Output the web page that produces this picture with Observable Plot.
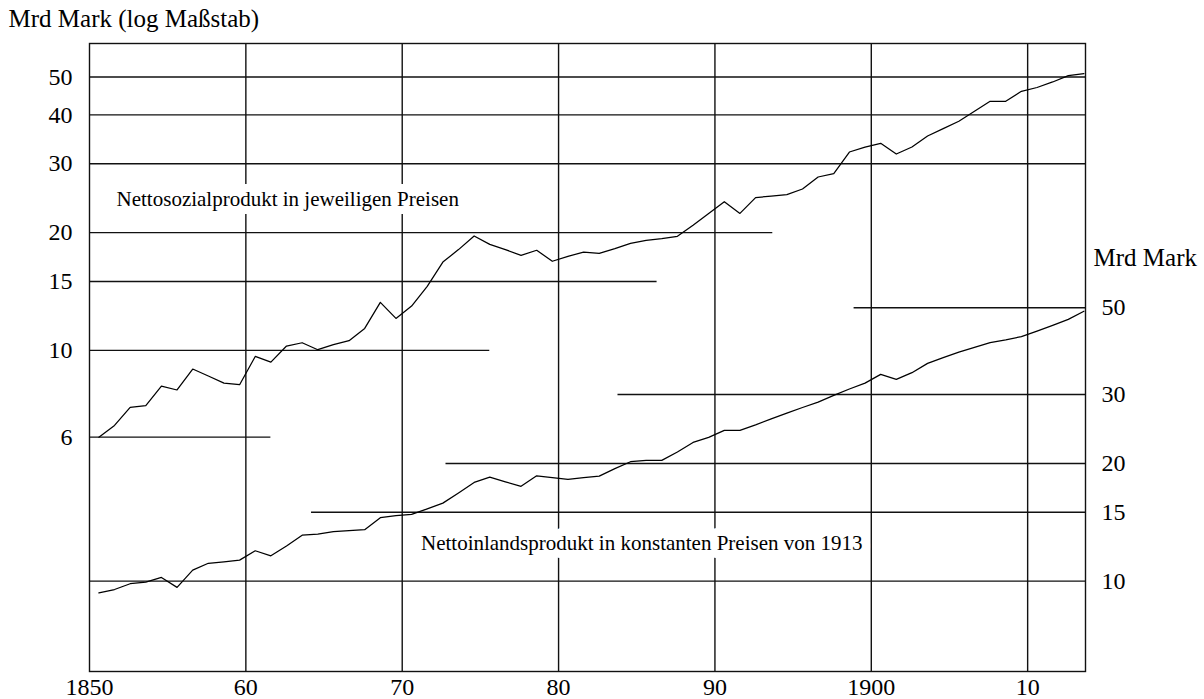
<!DOCTYPE html>
<html><head><meta charset="utf-8">
<script src="https://cdn.jsdelivr.net/npm/d3@7"></script>
<script src="https://cdn.jsdelivr.net/npm/@observablehq/plot@0.6"></script>
<style>
html,body{margin:0;padding:0;background:#fff;}
#chart svg{display:block;}
#chart svg text{font-family:"Liberation Serif","Times New Roman",serif;}
</style></head><body><div id="chart"></div>
<script>
// Years 1850–1913
const years = d3.range(1850, 1914);

// Nettosozialprodukt in jeweiligen Preisen (Mrd Mark, left log axis)
const nspCurrent = [
  6.0, 6.43, 7.15, 7.22, 8.10, 7.92, 8.96, 8.6, 8.25, 8.17,
  9.65, 9.33, 10.26, 10.46, 10.04, 10.35, 10.59, 11.38, 13.27, 12.07,
  12.98, 14.58, 16.82, 18.1, 19.61, 18.67, 18.10, 17.50, 18.03, 16.9,
  17.4, 17.84, 17.70, 18.2, 18.78, 19.11, 19.3, 19.57, 20.9, 22.4,
  24.0, 22.4, 24.58, 24.8, 25.02, 25.86, 27.75, 28.31, 32.15, 33.1,
  33.84, 31.77, 33.11, 35.33, 36.9, 38.52, 40.86, 43.33, 43.33, 45.96,
  47.0, 48.56, 50.41, 51.02
];

// Nettoinlandsprodukt in konstanten Preisen von 1913 (Mrd Mark, right log axis)
const ndpConstant = [
  9.34, 9.52, 9.85, 9.94, 10.22, 9.64, 10.67, 11.11, 11.21, 11.32,
  11.96, 11.61, 12.3, 13.11, 13.2, 13.38, 13.47, 13.54, 14.53, 14.7,
  14.81, 15.3, 15.83, 16.8, 17.88, 18.45, 17.95, 17.48, 18.6, 18.4,
  18.2, 18.4, 18.56, 19.4, 20.2, 20.36, 20.36, 21.4, 22.63, 23.31,
  24.29, 24.29, 25.1, 26.0, 26.9, 27.8, 28.7, 29.85, 31.0, 32.09,
  33.79, 32.81, 34.12, 36.05, 37.3, 38.52, 39.6, 40.71, 41.4, 42.2,
  43.6, 45.1, 46.7, 49.0
];

// Axes
const leftTicks = [6, 10, 15, 20, 30, 40, 50];
const leftGridEnd = [1861.6, 1875.6, 1886.3, 1893.7, 1913.7, 1913.7, 1913.7];
const rightTicks = [10, 15, 20, 30, 50];
const rightGridStart = [1850, 1864.2, 1872.8, 1883.8, 1898.9];
const xTicks = [1850, 1860, 1870, 1880, 1890, 1900, 1910];
const xTickLabels = ["1850", "60", "70", "80", "90", "1900", "10"];

const yTitleLeft = "Mrd Mark (log Maßstab)";
const yTitleRight = "Mrd Mark";
const seriesLabels = ["Nettosozialprodukt in jeweiligen Preisen", "Nettoinlandsprodukt in konstanten Preisen von 1913"];

// relation between right and left log scales (right value × factor = left value)
const rightToLeft = 0.257;

const serif = "Liberation Serif, Times New Roman, serif";
const topSeries = years.map((year, i) => ({year, v: nspCurrent[i]}));
const bottomSeries = years.map((year, i) => ({year, v: ndpConstant[i] * rightToLeft}));
const leftGrid = leftTicks.map((v, i) => ({v, x1: 1850, x2: leftGridEnd[i]}));
const rightGrid = rightTicks.map((v, i) => ({v: v * rightToLeft, x1: rightGridStart[i], x2: 1913.7}));
const labels = [
  {x: 1851.73, y: 24.37, t: seriesLabels[0]},
  {x: 1871.2, y: 12.48 * rightToLeft, t: seriesLabels[1]}
];

const ink = "#111";
const chart = Plot.plot({
  width: 1204,
  height: 699,
  marginTop: 43,
  marginBottom: 28,
  marginLeft: 89,
  marginRight: 119,
  style: {fontFamily: serif, fontSize: "22px", background: "#fff", color: "#000"},
  x: {domain: [1850, 1913.7], label: null, axis: null},
  y: {type: "log", domain: [1.51, 60.9], label: null, axis: null},
  marks: [
    Plot.ruleY(leftGrid, {y: "v", x1: "x1", x2: "x2", stroke: ink, strokeWidth: 1.4}),
    Plot.ruleY(rightGrid, {y: "v", x1: "x1", x2: "x2", stroke: ink, strokeWidth: 1.4}),
    Plot.ruleX(xTicks.slice(1), {stroke: ink, strokeWidth: 1.4}),
    Plot.frame({stroke: ink, strokeWidth: 1.4}),
    Plot.text(labels, {x: "x", y: "y", text: "t", textAnchor: "start", fontFamily: serif, fontSize: 21, fill: "#000", stroke: "#fff", strokeWidth: 16}),
    Plot.line(topSeries, {x: d => d.year + 0.6, y: "v", stroke: "#000", strokeWidth: 1.25}),
    Plot.line(bottomSeries, {x: d => d.year + 0.6, y: "v", stroke: "#000", strokeWidth: 1.25}),
    Plot.axisY(leftTicks, {anchor: "left", tickSize: 0, tickPadding: 17, fontFamily: serif, fontSize: 24, tickFormat: d => String(d), label: null}),
    Plot.axisY(rightTicks.map(v => v * rightToLeft), {anchor: "right", tickSize: 0, tickPadding: 16, fontFamily: serif, fontSize: 24, tickFormat: d => String(Math.round(d / rightToLeft)), label: null}),
    Plot.axisX(xTicks, {anchor: "bottom", tickSize: 0, tickPadding: 6, fontFamily: serif, fontSize: 24, tickFormat: d => xTickLabels[xTicks.indexOf(d)], label: null}),
    Plot.text([yTitleLeft], {frameAnchor: "top-left", dx: -81, dy: -25, textAnchor: "start", lineAnchor: "middle", fontFamily: serif, fontSize: 25}),
    Plot.text([yTitleRight], {frameAnchor: "top-right", dx: 8, dy: 214, textAnchor: "start", lineAnchor: "middle", fontFamily: serif, fontSize: 25})
  ]
});
document.getElementById("chart").appendChild(chart);
</script>
</body></html>
